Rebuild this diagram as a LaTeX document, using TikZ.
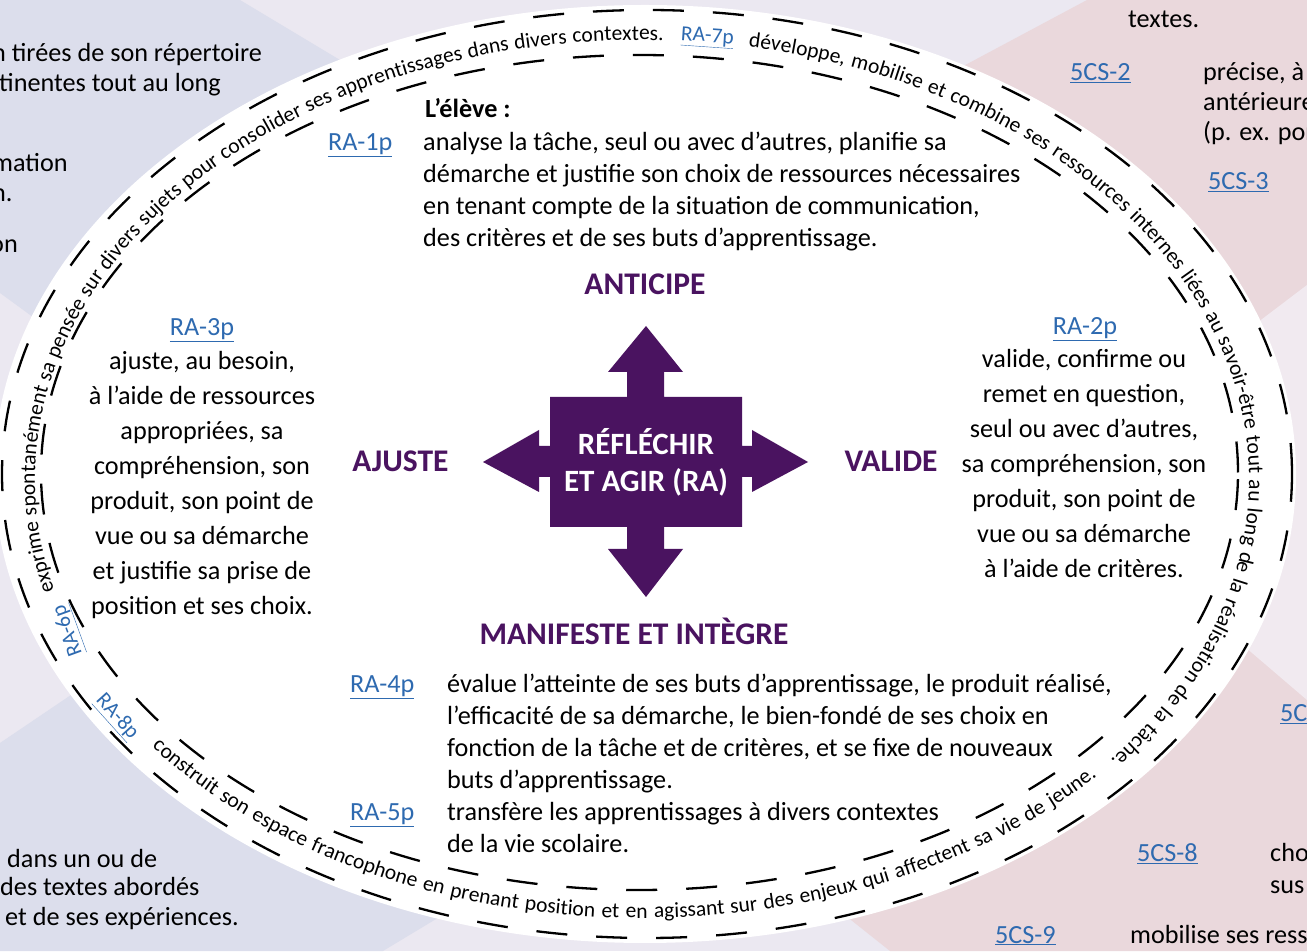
\documentclass[tikz,border=0pt]{standalone}
\usepackage{fontspec}
\setmainfont{Carlito}
\usetikzlibrary{decorations.text}
\definecolor{bgbase}{RGB}{235,232,241}
\definecolor{bgblue}{RGB}{220,222,236}
\definecolor{bgpink}{RGB}{234,216,220}
\definecolor{bglight}{RGB}{241,234,240}
\definecolor{rapurple}{RGB}{74,19,96}
\definecolor{linkblue}{RGB}{46,106,176}
\newcommand\bodyfont{\fontsize{26.2}{32}\selectfont}
\newcommand\curvefont{\fontsize{21.5}{21.5}\selectfont}
\newcommand\linkfont{\fontsize{21.5}{21.5}\selectfont}
\newcommand\headfont{\fontsize{31.5}{31.5}\selectfont\bfseries}
\newcommand\centfont{\fontsize{31}{31}\selectfont\bfseries}
\newcommand\lnk[1]{{\color{linkblue}\underline{#1}}}
\tikzset{
  txt/.style={inner sep=0pt, font=\bodyfont, text=black},
  curvetxt/.style={inner sep=0pt, font=\linkfont, text=black},
  head/.style={inner sep=0pt, font=\headfont, text=rapurple, anchor=base},
  centtxt/.style={inner sep=0pt, font=\centfont, text=white, anchor=base},
  dashline/.style={line width=2.3pt, dash pattern=on 31pt off 29pt},
}
\begin{document}
\begin{tikzpicture}[x=1pt,y=1pt]
\useasboundingbox (0,0) rectangle (1307,951);
\clip (0,0) rectangle (1307,951);
% background
\fill[bgbase] (0,0) rectangle (1307,951);
\fill[bgblue] (0,951) -- (240,951) -- (700,675) -- (400,366) -- (0,658) -- cycle;
\fill[bgblue] (0,208) -- (300,411) -- (700,191) -- (383,0) -- (0,0) -- cycle;
\fill[bgpink] (1087,951) -- (1307,951) -- (1307,0) -- (890,0) -- (700,151) -- (750,771) -- cycle;
\fill[bglight] (1050,471) -- (1307,666) -- (1307,251) -- cycle;
% background texts (cut)
\node[txt, anchor=base west] (bt1) at (-8,889) {n tirées de son répertoire};
\node[txt, anchor=base west] (bt2) at (-1,859) {tinentes tout au long};
\node[txt, anchor=base west] (bt3) at (-8,779) {mation};
\node[txt, anchor=base west] (bt4) at (-8,749) {n.};
\node[txt, anchor=base west] (bt5) at (-10,698) {on};
\node[txt, anchor=base west] (bt6) at (7,84) {dans un ou de};
\node[txt, anchor=base west] (bt7) at (0,56) {des textes abordés};
\node[txt, anchor=base west] (bt8) at (5,26) {et de ses expériences.};
\node[txt, anchor=base west] (bt9) at (1128,923) {textes.};
\node[txt, anchor=base west] (cs2) at (1070,870) {\lnk{5CS-2}};
\node[txt, anchor=base west] (bt10) at (1203,870) {précise, à};
\node[txt, anchor=base west] (bt11) at (1203,840) {antérieure};
\node[txt, anchor=base west] (bt12) at (1203,810) {(p. ex. por};
\node[txt, anchor=base west] (cs3) at (1208,761) {\lnk{5CS-3}};
\node[txt, anchor=base west] (cs4) at (1280,229) {\lnk{5C}};
\node[txt, anchor=base west] (cs8) at (1137,89) {\lnk{5CS-8}};
\node[txt, anchor=base west] (bt13) at (1270,89) {cho};
\node[txt, anchor=base west] (bt14) at (1270,58) {sus};
\node[txt, anchor=base west] (cs9) at (995,8) {\lnk{5CS-9}};
\node[txt, anchor=base west] (bt15) at (1130,8) {mobilise ses ress};
% ellipse
\fill[white] (645,477) ellipse[x radius=651, y radius=469];
\draw[dashline] (647,477) ellipse[x radius=645, y radius=464];
\draw[dashline] (639.5,478.5) ellipse[x radius=598.5, y radius=417.5];
% curved texts
\path[decorate, decoration={text along path, text align={fit to path stretching spaces},
  text={|\curvefont|exprime spontanément sa pensée sur divers sujets pour consolider ses apprentissages dans divers contextes.}}]
  ({642+607*cos(194.5)},{471+440*sin(194.5)}) arc[start angle=194.5, end angle=88, x radius=607, y radius=440];
\path[decorate, decoration={text along path, text align={fit to path stretching spaces},
  text={|\curvefont|développe, mobilise et combine ses ressources internes liées au savoir-être tout au long de la réalisation de la tâche.}}]
  ({642+607*cos(79.9)},{471+440*sin(79.9)}) arc[start angle=79.9, end angle=-39.5, x radius=607, y radius=440];
\path[decorate, decoration={text along path, text align={fit to path stretching spaces},
  text={|\curvefont|construit son espace francophone en prenant position et en agissant sur des enjeux qui affectent sa vie de jeune.}}]
  ({642+622*cos(218)},{478+445*sin(218)}) arc[start angle=218, end angle=317, x radius=622, y radius=445];
\node[curvetxt, anchor=base, rotate=110] (ra6) at (73,322) {\lnk{RA-6p}};
\node[curvetxt, anchor=base, rotate=-4] (ra7) at (707,909) {\lnk{RA-7p}};
\node[curvetxt, anchor=base, rotate=-48] (ra8) at (113,231) {\lnk{RA-8p}};
% central arrows
\fill[rapurple] (550,554) -- (627,554) -- (627,579) -- (608,579) -- (646,625) -- (683,579) -- (664,579) -- (664,554)
  -- (742,554) -- (742,505) -- (752,505) -- (752,521) -- (808,489) -- (752,459) -- (752,474) -- (742,474)
  -- (742,424) -- (664,424) -- (664,402) -- (683,402) -- (646,354) -- (608,402) -- (627,402) -- (627,424)
  -- (550,424) -- (550,474) -- (539,474) -- (539,459) -- (483,489) -- (539,521) -- (539,505) -- (550,505) -- cycle;
\node[centtxt] (ra1c) at (646,496) {RÉFLÉCHIR};
\node[centtxt] (ra2c) at (646,459) {ET AGIR (RA)};
% heads
\node[head] (anticipe) at (645,656) {ANTICIPE};
\node[head] (ajuste) at (400.5,479) {AJUSTE};
\node[head] (valide) at (891,479) {VALIDE};
\node[head] (manif) at (634,306) {MANIFESTE ET INTÈGRE};
% top block
\node[txt, font=\bodyfont\bfseries, anchor=base west] (eleve) at (425,833) {L’élève :};
\node[txt, anchor=base west] (ra1) at (328,800) {\lnk{RA-1p}};
\foreach \l [count=\i] in {{analyse la tâche, seul ou avec d’autres, planifie sa},{démarche et justifie son choix de ressources nécessaires},{en tenant compte de la situation de communication,},{des critères et de ses buts d’apprentissage.}}
  \node[txt, anchor=base west] (top\i) at (423,{800-32*(\i-1)}) {\l};
% left block
\node[txt, anchor=base] (ra3) at (202,615) {\lnk{RA-3p}};
\foreach \l [count=\i] in {{ajuste, au besoin,},{à l’aide de ressources},{appropriées, sa},{compréhension, son},{produit, son point de},{vue ou sa démarche},{et justifie sa prise de},{position et ses choix.}}
  \node[txt, anchor=base] (left\i) at (202,{581-35*(\i-1)}) {\l};
% right block
\node[txt, anchor=base] (ra2) at (1085,616) {\lnk{RA-2p}};
\foreach \l [count=\i] in {{valide, confirme ou},{remet en question,},{seul ou avec d’autres,},{sa compréhension, son},{produit, son point de},{vue ou sa démarche},{à l’aide de critères.}}
  \node[txt, anchor=base] (right\i) at (1084,{583-35*(\i-1)}) {\l};
% bottom block
\node[txt, anchor=base west] (ra4) at (350,258) {\lnk{RA-4p}};
\node[txt, anchor=base west] (ra5) at (350,130) {\lnk{RA-5p}};
\foreach \l [count=\i] in {{évalue l’atteinte de ses buts d’apprentissage, le produit réalisé,},{l’efficacité de sa démarche, le bien-fondé de ses choix en},{fonction de la tâche et de critères, et se fixe de nouveaux},{buts d’apprentissage.},{transfère les apprentissages à divers contextes},{de la vie scolaire.}}
  \node[txt, anchor=base west] (bot\i) at (447,{258-32*(\i-1)}) {\l};
\end{tikzpicture}
\end{document}
